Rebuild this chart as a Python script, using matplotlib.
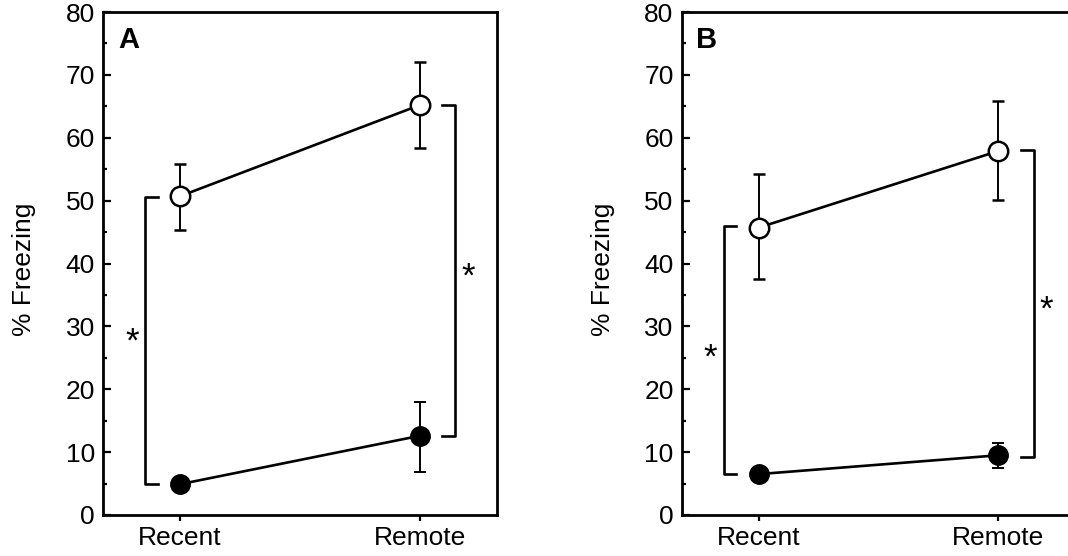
import matplotlib
matplotlib.use("Agg")
import matplotlib.pyplot as plt
import numpy as np

plt.rcParams['font.family'] = ['Liberation Sans', 'DejaVu Sans']

sessions = ['Recent', 'Remote']
xpos = np.array([0, 1])

# panel A
a_open = [50.7, 65.2]
a_open_err_hi = [5.2, 6.9]
a_open_err_lo = [5.3, 6.9]
a_fill = [4.9, 12.6]
a_fill_err_hi = [0.0, 5.4]
a_fill_err_lo = [0.0, 5.7]

# panel B
b_open = [45.7, 57.9]
b_open_err_hi = [8.5, 8.0]
b_open_err_lo = [8.1, 7.8]
b_fill = [6.5, 9.5]
b_fill_err_hi = [0.0, 1.9]
b_fill_err_lo = [0.0, 2.0]

fig = plt.figure(figsize=(10.68, 5.56), dpi=100)

W, H = 1068., 556.
axA = fig.add_axes([103.3/W, 41/H, 393.3/W, 503/H])
axB = fig.add_axes([681.9/W, 41/H, 393.3/W, 503/H])


def draw_panel(ax, op, op_hi, op_lo, fi, fi_hi, fi_lo, letter,
               lb, rb, lstar_y, rstar_y):
    ax.errorbar(xpos, op, yerr=[op_lo, op_hi], fmt='o-', color='black',
                mfc='white', mec='black', mew=1.8, ms=14, lw=1.9,
                elinewidth=1.4, capsize=4, capthick=1.4, zorder=3)
    ax.errorbar(xpos, fi, yerr=[fi_lo, fi_hi], fmt='o-', color='black',
                mfc='black', mec='black', ms=14, lw=1.9,
                elinewidth=1.4, capsize=4, capthick=1.4, zorder=3)
    # significance brackets
    ax.plot([-0.093, -0.145, -0.145, -0.093], [lb[0], lb[0], lb[1], lb[1]],
            color='black', lw=1.9)
    ax.plot([1.093, 1.147, 1.147, 1.093], [rb[0], rb[0], rb[1], rb[1]],
            color='black', lw=1.9)
    ax.text(-0.2, lstar_y - 1.5, '*', ha='center', va='center', fontsize=25)
    ax.text(1.2, rstar_y - 1.5, '*', ha='center', va='center', fontsize=25)

    ax.text(0.037, 0.928, letter, transform=ax.transAxes, fontsize=21,
            fontweight='bold', va='baseline', ha='left')

    ax.set_xlim(-0.32, 1.32)
    ax.set_ylim(0, 80)
    ax.set_yticks(np.arange(0, 81, 10))
    ax.set_yticks(np.arange(5, 80, 10), minor=True)
    ax.set_xticks(xpos)
    ax.set_xticklabels(sessions)
    ax.tick_params(axis='y', which='major', direction='in', length=6,
                   width=1.6, labelsize=19, pad=6)
    ax.tick_params(axis='y', which='minor', direction='in', length=3,
                   width=1.6)
    ax.tick_params(axis='x', direction='out', length=4, width=1.6,
                   labelsize=19, pad=4)
    for s in ax.spines.values():
        s.set_linewidth(2.0)
    ax.set_ylabel('% Freezing', fontsize=19)
    ax.yaxis.set_label_coords(-0.17, 0.489)


draw_panel(axA, a_open, a_open_err_hi, a_open_err_lo,
           a_fill, a_fill_err_hi, a_fill_err_lo, 'A',
           (50.5, a_fill[0]), (a_open[1], a_fill[1]), 29, 39.4)
draw_panel(axB, b_open, b_open_err_hi, b_open_err_lo,
           b_fill, b_fill_err_hi, b_fill_err_lo, 'B',
           (46.0, b_fill[0]), (58.0, 9.2), 26.4, 34.1)

fig.savefig('out.png', dpi=100)
